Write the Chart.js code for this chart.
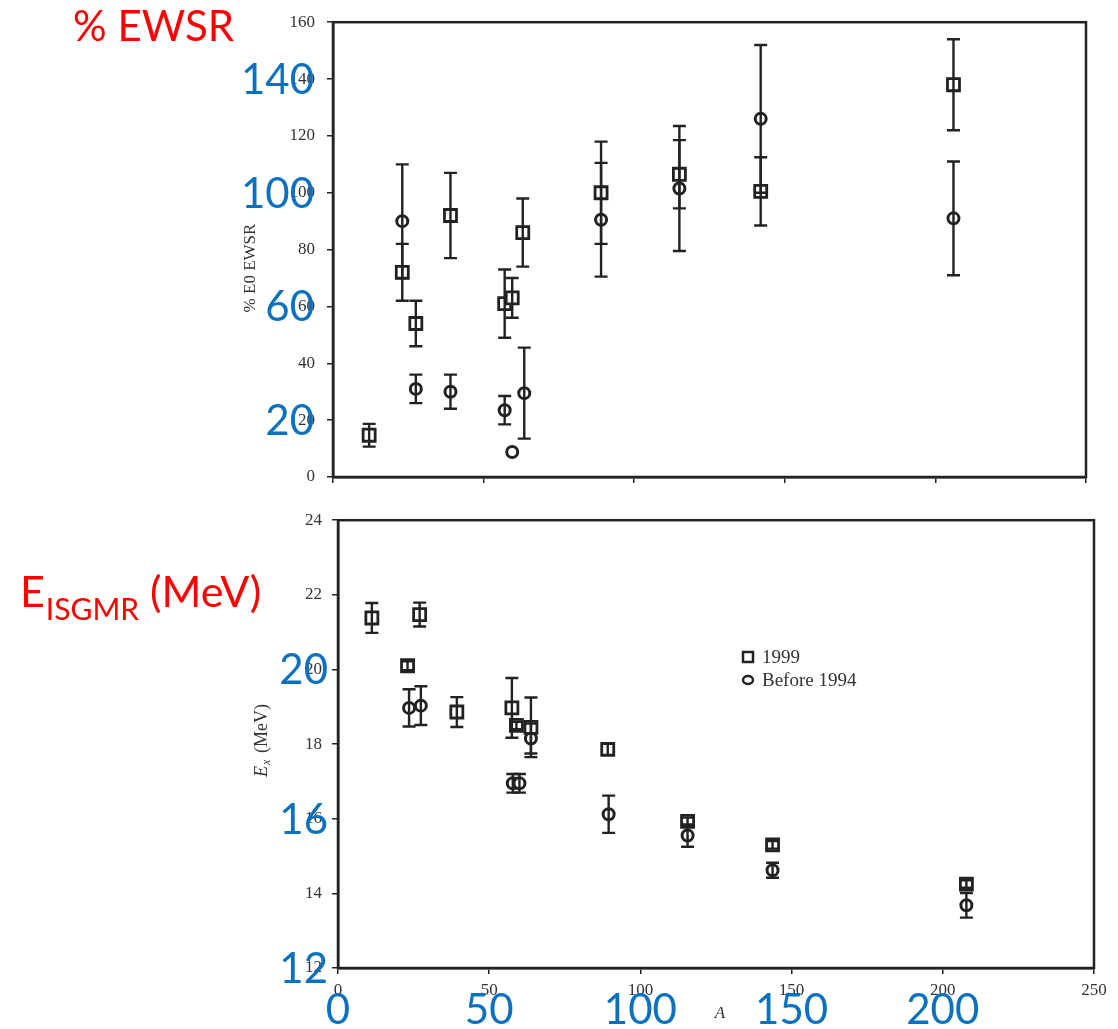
<!DOCTYPE html>
<html>
<head>
<meta charset="utf-8">
<script src="https://cdn.jsdelivr.net/npm/chart.js@4.4.1/dist/chart.umd.min.js"></script>
<style>
  html, body { margin: 0; padding: 0; background: #fff; }
  #wrap { position: relative; width: 1118px; height: 1029px; }
  #top { position: absolute; left: 0; top: 0; }
  #bot { position: absolute; left: 0; top: 500px; }
</style>
</head>
<body>
<div id="wrap">
  <canvas id="top" width="1118" height="500"></canvas>
  <canvas id="bot" width="1118" height="529"></canvas>
</div>
<script>
// ---- top panel: % E0 EWSR vs A ----
const topSqA = [12, 23, 27.5, 39, 57, 59.5, 63, 89, 115, 142, 206];
const topSqV = [14.7, 72, 54, 92, 61, 63, 86, 100, 106.5, 100.5, 138];
const topSqE = [4, 10, 8, 15, 12, 7, 12, 18, 12, 12, 16];

const topCiA = [23, 27.5, 39, 57, 59.5, 63.5, 89, 115, 142, 206];
const topCiV = [90, 31, 30, 23.5, 8.8, 29.5, 90.5, 101.5, 126, 91];
const topCiE = [20, 5, 6, 5, 0, 16, 20, 22, 26, 20];

// ---- bottom panel: Ex (MeV) vs A ----
const botSqA = [11.2, 23, 27, 39.3, 57.5, 59, 63.8, 89.2, 115.6, 143.7, 207.8];
const botSqV = [21.38, 20.1, 21.47, 18.86, 18.97, 18.5, 18.45, 17.86, 15.93, 15.3, 14.25];
const botSqE = [0.4, 0.12, 0.32, 0.4, 0.8, 0.1, 0.8, 0.15, 0.1, 0.1, 0.1];

const botCiA = [23.5, 27.4, 57.8, 60, 63.8, 89.5, 115.6, 143.7, 207.8];
const botCiV = [18.97, 19.03, 16.95, 16.95, 18.15, 16.12, 15.55, 14.62, 13.68];
const botCiE = [0.5, 0.52, 0.25, 0.25, 0.4, 0.5, 0.3, 0.2, 0.33];

// overlay labels (blue, big) and tick setup
const blueTopTicks = [140, 100, 60, 20];
const blueBotTicks = [20, 16, 12];
const blueXTicks = [0, 50, 100, 150, 200];
const seriesNames = ['1999', 'Before 1994'];

const INK = '#222';
const BLUE = '#0a70c0';
const RED = '#ff0000';
const SERIF = '"Liberation Serif", "DejaVu Serif", serif';

function pts(a, v) {
  return a.map((x, i) => ({ x: x, y: v[i] }));
}

function sqSet(a, v, e) {
  return {
    label: seriesNames[0], data: pts(a, v), err: e,
    pointStyle: 'rect', pointRadius: 8.5, pointBorderWidth: 2.8,
    pointBackgroundColor: '#fff', pointBorderColor: INK, showLine: false
  };
}
function ciSet(a, v, e) {
  return {
    label: seriesNames[1], data: pts(a, v), err: e,
    pointStyle: 'circle', pointRadius: 5.5, pointBorderWidth: 3,
    pointBackgroundColor: '#fff', pointBorderColor: INK, showLine: false
  };
}

// error bars + frame drawn through the chart scales
const errorBars = {
  id: 'errorBars',
  afterDatasetsDraw(chart) {
    const ctx = chart.ctx;
    const xs = chart.scales.x, ys = chart.scales.y;
    ctx.save();
    ctx.strokeStyle = INK;
    ctx.lineWidth = 2.4;
    chart.data.datasets.forEach(ds => {
      ds.data.forEach((p, i) => {
        const e = ds.err[i];
        if (!e) return;
        const px = xs.getPixelForValue(p.x);
        const y1 = ys.getPixelForValue(p.y + e);
        const y2 = ys.getPixelForValue(p.y - e);
        ctx.beginPath();
        ctx.moveTo(px, y1); ctx.lineTo(px, y2);
        ctx.moveTo(px - 6.5, y1); ctx.lineTo(px + 6.5, y1);
        ctx.moveTo(px - 6.5, y2); ctx.lineTo(px + 6.5, y2);
        ctx.stroke();
      });
    });
    const a = chart.chartArea;
    ctx.lineWidth = 2.5;
    ctx.strokeRect(a.left, a.top, a.right - a.left, a.bottom - a.top);
    ctx.restore();
  }
};

function overlay(cfg) {
  return {
    id: 'overlay',
    afterDraw(chart) {
      const ctx = chart.ctx;
      const xs = chart.scales.x, ys = chart.scales.y;
      ctx.save();
      // original axis title (rotated, serif)
      ctx.fillStyle = '#333';
      ctx.translate(cfg.titleX, cfg.titleY);
      ctx.rotate(-Math.PI / 2);
      ctx.textAlign = 'center';
      ctx.textBaseline = 'middle';
      cfg.drawTitle(ctx);
      ctx.setTransform(1, 0, 0, 1, 0, 0);

      // big blue tick labels
      ctx.fillStyle = BLUE;
      ctx.font = '42px Lato, "Open Sans", sans-serif';
      ctx.textAlign = 'right';
      ctx.textBaseline = 'alphabetic';
      cfg.blueY.forEach(v => {
        ctx.fillText(String(v), cfg.blueYRight, ys.getPixelForValue(v) + 15);
      });
      if (cfg.blueX) {
        ctx.textAlign = 'center';
        cfg.blueX.forEach(v => {
          ctx.fillText(String(v), xs.getPixelForValue(v), cfg.blueXBase);
        });
      }
      // red title
      ctx.fillStyle = RED;
      ctx.textAlign = 'left';
      cfg.drawRed(ctx);
      if (cfg.extra) cfg.extra(chart, ctx);
      ctx.restore();
    }
  };
}

function baseOpts(o) {
  return {
    responsive: false,
    animation: false,
    layout: { padding: o.pad },
    plugins: { legend: { display: false }, tooltip: { enabled: false } },
    scales: {
      x: {
        type: 'linear', min: 0, max: 250,
        afterFit: s => { s.height = o.xh; },
        grid: { drawOnChartArea: false, color: INK, tickLength: 6, lineWidth: 1.5 },
        border: { color: INK, width: 2.5 },
        ticks: { display: o.xLabels, stepSize: 50, padding: 6, color: '#333',
                 font: { family: SERIF, size: 17 } }
      },
      y: {
        type: 'linear', min: o.ymin, max: o.ymax,
        afterFit: s => { s.width = 80; },
        grid: { drawOnChartArea: false, color: INK, tickLength: 6, lineWidth: 1.5 },
        border: { color: INK, width: 2.5 },
        ticks: { stepSize: o.ystep, padding: o.ypad, color: '#333',
                 font: { family: SERIF, size: 17 } }
      }
    }
  };
}

new Chart(document.getElementById('top'), {
  type: 'scatter',
  data: { datasets: [sqSet(topSqA, topSqV, topSqE), ciSet(topCiA, topCiV, topCiE)] },
  options: baseOpts({ pad: { left: 253, top: 21, right: 32, bottom: 15 }, xh: 8,
                      xLabels: false, ymin: 0, ymax: 160, ystep: 20, ypad: 12 }),
  plugins: [errorBars, overlay({
    titleX: 251, titleY: 268,
    drawTitle(ctx) {
      ctx.font = '17px ' + SERIF;
      ctx.fillText('% E0 EWSR', 0, 0);
    },
    blueY: blueTopTicks, blueYRight: 314,
    drawRed(ctx) {
      ctx.font = '42px Lato, "Open Sans", sans-serif';
      ctx.fillText('% EWSR', 73, 41);
    }
  })]
});

new Chart(document.getElementById('bot'), {
  type: 'scatter',
  data: { datasets: [sqSet(botSqA, botSqV, botSqE), ciSet(botCiA, botCiV, botCiE)] },
  options: baseOpts({ pad: { left: 258, top: 17, right: 24, bottom: 21 }, xh: 40,
                      xLabels: true, ymin: 12, ymax: 24, ystep: 2, ypad: 10 }),
  plugins: [errorBars, overlay({
    titleX: 262, titleY: 235,
    drawTitle(ctx) {
      ctx.font = 'italic 18px ' + SERIF;
      ctx.textAlign = 'left';
      ctx.fillText('E', -42, 0);
      ctx.font = 'italic 12px ' + SERIF;
      ctx.fillText('x', -30, 5);
      ctx.font = '18px ' + SERIF;
      ctx.fillText('(MeV)', -18, 0);
    },
    blueY: blueBotTicks, blueYRight: 328,
    blueX: blueXTicks, blueXBase: 524,
    drawRed(ctx) {
      ctx.font = '43px Lato, "Open Sans", sans-serif';
      ctx.fillText('E', 20, 107);
      const w1 = ctx.measureText('E').width;
      ctx.font = '30px Lato, "Open Sans", sans-serif';
      ctx.fillText('ISGMR', 20 + w1 + 1, 120);
      const w2 = ctx.measureText('ISGMR').width;
      ctx.font = '43px Lato, "Open Sans", sans-serif';
      ctx.fillText('(MeV)', 20 + w1 + w2 + 12, 107);
    },
    extra(chart, ctx) {
      // axis letter A
      ctx.fillStyle = '#333';
      ctx.font = 'italic 17px ' + SERIF;
      ctx.textAlign = 'center';
      ctx.fillText('A', 720, 518);
      // legend, built from the datasets
      const items = chart.data.datasets;
      ctx.textAlign = 'left';
      ctx.font = '19px ' + SERIF;
      items.forEach((ds, i) => {
        const y = 157 + i * 23;
        ctx.strokeStyle = INK; ctx.lineWidth = 2.5; ctx.fillStyle = '#fff';
        ctx.beginPath();
        if (ds.pointStyle === 'rect') ctx.rect(748 - 5, y - 5, 10, 10);
        else ctx.ellipse(748, y, 5, 4, 0, 0, Math.PI * 2);
        ctx.fill(); ctx.stroke();
        ctx.fillStyle = '#333';
        ctx.fillText(ds.label, 762, y + 6);
      });
    }
  })]
});
</script>
</body>
</html>
